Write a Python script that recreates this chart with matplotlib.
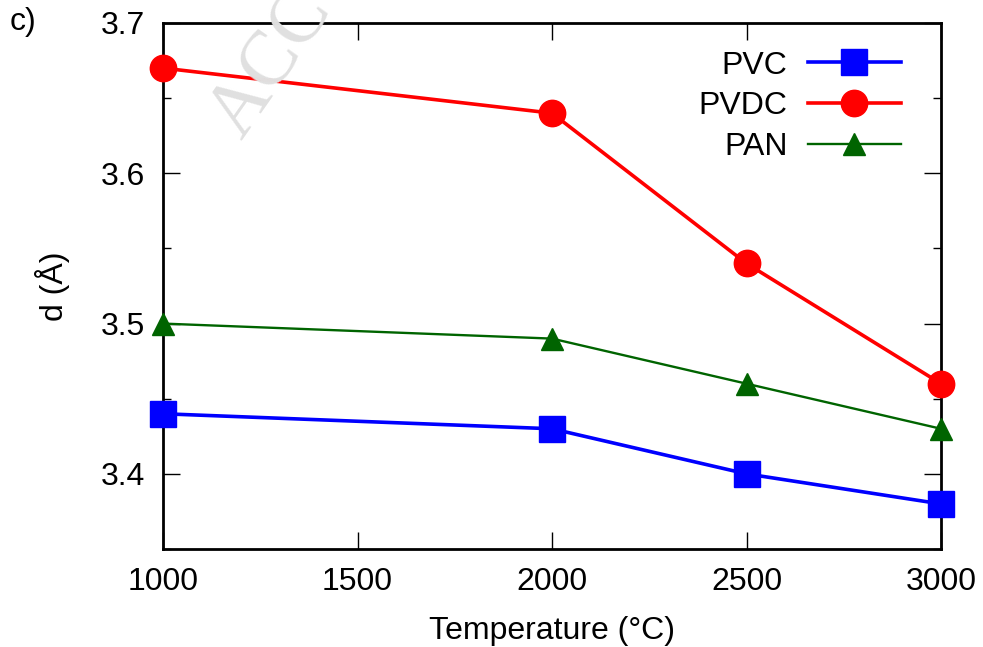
import matplotlib
matplotlib.use("Agg")
import matplotlib.pyplot as plt
from matplotlib.ticker import MultipleLocator, FormatStrFormatter

temperature = [1000, 2000, 2500, 3000]
pvc = [3.44, 3.43, 3.40, 3.38]
pvdc = [3.67, 3.64, 3.54, 3.46]
pan = [3.50, 3.49, 3.46, 3.43]
x_ticks = [1000, 1500, 2000, 2500, 3000]

plt.rcParams['font.family'] = ['Liberation Sans', 'DejaVu Sans']

fig = plt.figure(figsize=(9.83, 6.47), dpi=100)
ax = fig.add_axes([163/983, 1 - 549/647, (941-163)/983, (549-23)/647])

ax.plot(temperature, pvc, color='#0000ff', lw=2.6, marker='s', ms=19, label='PVC', clip_on=False, zorder=3)
ax.plot(temperature, pvdc, color='#ff0000', lw=2.6, marker='o', ms=19, label='PVDC', clip_on=False, zorder=3)
ax.plot(temperature, pan, color='#006400', lw=1.7, marker='^', ms=16, label='PAN', clip_on=False, zorder=3)

ax.set_xlim(1000, 3000)
ax.set_ylim(3.35, 3.7)
ax.set_xticks(x_ticks)
ax.yaxis.set_major_locator(MultipleLocator(0.1))
ax.yaxis.set_minor_locator(MultipleLocator(0.05))
ax.yaxis.set_major_formatter(FormatStrFormatter('%.1f'))

for s in ax.spines.values():
    s.set_linewidth(2.0)
ax.tick_params(which='both', direction='in', top=True, right=True, width=1.0, labelsize=23)
ax.tick_params(which='major', length=12)
ax.tick_params(which='minor', length=6)
ax.tick_params(axis='x', pad=13)
ax.tick_params(axis='y', pad=13)

ax.set_xlabel('Temperature (°C)', fontsize=23, labelpad=14)
ax.set_ylabel('d (Å)', fontsize=23, labelpad=22)

leg = ax.legend(loc='upper right', frameon=False, markerfirst=False, fontsize=23,
                handlelength=2.9, handletextpad=0.65, labelspacing=0.33,
                bbox_to_anchor=(0.975, 0.987), borderaxespad=0.25)
for t in leg.get_texts():
    t.set_ha('right')

fig.text(10/983, 1 - 22/647, 'c)', fontsize=23, va='center', ha='left')

fig.text(240/983, 1 - 140/647, 'ACC', fontsize=56, color='#e0e0e0',
         rotation=55, rotation_mode='anchor', ha='left', va='baseline',
         family=['Liberation Serif', 'DejaVu Serif'], zorder=0)

fig.savefig('out.png', dpi=100)
